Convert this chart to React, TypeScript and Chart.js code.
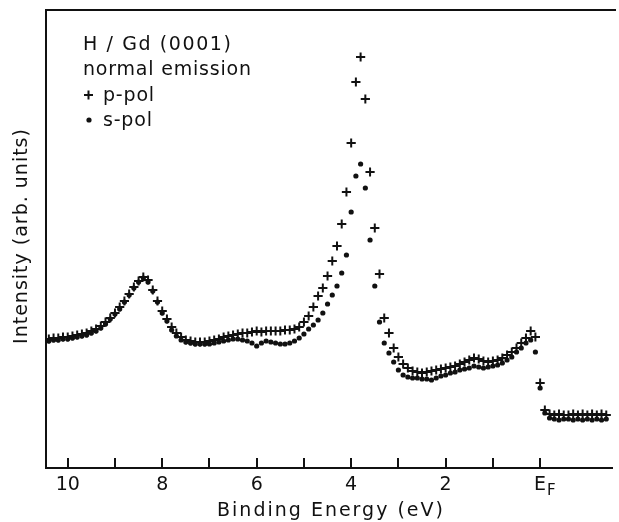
import React, { useEffect, useRef } from "react";
import { Chart, registerables } from "chart.js";

Chart.register(...registerables);

// Binding energy (eV), x grid
const energies = [
  10.4, 10.3, 10.2, 10.1, 10.0,
  9.9, 9.8, 9.7, 9.6, 9.5, 9.4, 9.3, 9.2, 9.1, 9.0,
  8.9, 8.8, 8.7, 8.6, 8.5, 8.4, 8.3, 8.2, 8.1, 8.0,
  7.9, 7.8, 7.7, 7.6, 7.5, 7.4, 7.3, 7.2, 7.1, 7.0,
  6.9, 6.8, 6.7, 6.6, 6.5, 6.4, 6.3, 6.2, 6.1, 6.0,
  5.9, 5.8, 5.7, 5.6, 5.5, 5.4, 5.3, 5.2, 5.1, 5.0,
  4.9, 4.8, 4.7, 4.6, 4.5, 4.4, 4.3, 4.2, 4.1, 4.0,
  3.9, 3.8, 3.7, 3.6, 3.5, 3.4, 3.3, 3.2, 3.1, 3.0,
  2.9, 2.8, 2.7, 2.6, 2.5, 2.4, 2.3, 2.2, 2.1, 2.0,
  1.9, 1.8, 1.7, 1.6, 1.5, 1.4, 1.3, 1.2, 1.1, 1.0,
  0.9, 0.8, 0.7, 0.6, 0.5, 0.4, 0.3, 0.2, 0.1, 0.0,
  -0.1, -0.2, -0.3, -0.4, -0.5, -0.6, -0.7, -0.8, -0.9, -1.0, -1.1, -1.2, -1.3, -1.4,
];

// p-polarised intensity (arb. units)
const pPol = [
  129, 130, 130, 131, 131,
  132, 133, 134, 135, 137, 139, 142, 146, 150, 155,
  161, 167, 174, 181, 187, 191, 188, 178, 167, 157,
  149, 141, 135, 131, 128, 127, 126, 126, 126, 127,
  128, 129, 131, 132, 133, 134, 135, 135, 136, 137,
  136, 137, 137, 137, 137, 138, 138, 139, 141, 146,
  152, 161, 172, 180, 192, 207, 222, 244, 276, 325,
  386, 411, 369, 296, 240, 194, 150, 135, 120, 111,
  104, 100, 97, 96, 95, 96, 97, 98, 99, 100,
  101, 102, 104, 106, 108, 110, 109, 107, 106, 107,
  108, 110, 113, 116, 120, 125, 130, 137, 131, 85,
  58, 54, 53, 54, 53, 53, 54, 53, 54, 53, 54, 53, 54, 53,
];

// s-polarised intensity (arb. units)
const sPol = [
  127, 128, 128, 129, 129,
  130, 131, 132, 133, 135, 137, 140, 144, 149, 154,
  159, 166, 173, 180, 186, 190, 186, 177, 166, 155,
  147, 138, 132, 128, 126, 125, 124, 124, 124, 124,
  125, 126, 127, 128, 129, 129, 128, 127, 125, 122,
  125, 127, 126, 125, 124, 124, 125, 127, 130, 134,
  139, 143, 148, 155, 164, 173, 182, 195, 213, 256,
  292, 304, 280, 228, 182, 146, 125, 115, 106, 98,
  93, 91, 90, 90, 89, 89, 88, 90, 92, 93,
  95, 96, 98, 99, 100, 102, 101, 100, 101, 102,
  103, 105, 108, 111, 116, 120, 125, 128, 116, 80,
  55, 50, 49, 48, 49, 49, 48, 49, 48, 49, 48, 49, 48, 49,
];

const tickValues = [10, 9, 8, 7, 6, 5, 4, 3, 2, 1, 0];
const labelledTicks = [10, 8, 6, 4, 2];
const xTitle = "Binding Energy (eV)";
const yTitle = "Intensity (arb. units)";
const legendLines = ["H / Gd (0001)", "normal emission"];
const seriesNames = ["p-pol", "s-pol"];

const FONT = '"DejaVu Sans", sans-serif';

export default function App() {
  const canvasRef = useRef<HTMLCanvasElement | null>(null);

  useEffect(() => {
    const canvas = canvasRef.current;
    if (!canvas) return;

    const decor = {
      id: "decor",
      afterDraw(chart: any) {
        const ctx = chart.ctx as CanvasRenderingContext2D;
        const area = chart.chartArea;
        const xs = chart.scales.x;
        ctx.save();
        ctx.strokeStyle = "#111";
        ctx.fillStyle = "#111";
        // top frame line
        ctx.lineWidth = 2;
        ctx.beginPath();
        ctx.moveTo(area.left, area.top);
        ctx.lineTo(616, area.top);
        ctx.stroke();
        // inward ticks
        ctx.lineWidth = 2;
        for (const v of tickValues) {
          const px = Math.round(xs.getPixelForValue(v));
          ctx.beginPath();
          ctx.moveTo(px, area.bottom);
          ctx.lineTo(px, area.bottom - 10);
          ctx.stroke();
        }
        // subscript F for E_F
        const ef = xs.getPixelForValue(0);
        (ctx as any).letterSpacing = "0px";
        ctx.font = `15px ${FONT}`;
        ctx.textAlign = "left";
        ctx.textBaseline = "alphabetic";
        ctx.fillText("F", ef + 7, 495);
        // axis titles
        (ctx as any).letterSpacing = "2px";
        ctx.font = `19px ${FONT}`;
        ctx.textAlign = "center";
        ctx.fillText(xTitle, 331, 516);
        ctx.save();
        ctx.translate(27, 236);
        ctx.rotate(-Math.PI / 2);
        (ctx as any).letterSpacing = "1px";
        ctx.fillText(yTitle, 0, 0);
        ctx.restore();
        // legend text
        (ctx as any).letterSpacing = "1.6px";
        ctx.textAlign = "left";
        ctx.font = `19px ${FONT}`;
        ctx.fillText(legendLines[0], 83, 50);
        (ctx as any).letterSpacing = "0.8px";
        ctx.fillText(legendLines[1], 83, 75);
        ctx.fillText(seriesNames[0], 103, 101);
        ctx.fillText(seriesNames[1], 103, 126);
        // legend markers
        ctx.lineWidth = 2;
        ctx.beginPath();
        ctx.moveTo(84, 95);
        ctx.lineTo(93, 95);
        ctx.moveTo(88.5, 90.5);
        ctx.lineTo(88.5, 99.5);
        ctx.stroke();
        ctx.beginPath();
        ctx.arc(89, 120, 2.6, 0, Math.PI * 2);
        ctx.fill();
        ctx.restore();
      },
    };

    const chart = new Chart(canvas, {
      type: "scatter",
      data: {
        datasets: [
          {
            label: seriesNames[1],
            data: energies.map((x, i) => ({ x, y: sPol[i] })),
            pointStyle: "circle",
            pointRadius: 2.6,
            backgroundColor: "#111",
            borderWidth: 0,
            showLine: false,
          },
          {
            label: seriesNames[0],
            data: energies.map((x, i) => ({ x, y: pPol[i] })),
            pointStyle: "cross",
            pointRadius: 4.6,
            borderColor: "#111",
            borderWidth: 2,
            showLine: false,
          },
        ],
      },
      options: {
        responsive: false,
        animation: false,
        events: [],
        layout: { padding: { left: 0, top: 10, right: 0, bottom: 0 } },
        plugins: { legend: { display: false }, tooltip: { enabled: false } },
        scales: {
          x: {
            type: "linear",
            reverse: true,
            min: -1.53,
            max: 10.46,
            afterFit: (s: any) => {
              s.height = 54;
            },
            grid: { display: false },
            border: { display: true, color: "#111", width: 2 },
            ticks: {
              stepSize: 1,
              includeBounds: false,
              autoSkip: false,
              maxRotation: 0,
              padding: -2,
              color: "#111",
              font: { family: FONT, size: 19 },
              callback: (v: any) =>
                v === 0 ? "E" : labelledTicks.includes(v) ? String(v) : "",
            },
          },
          y: {
            type: "linear",
            min: 0,
            max: 458,
            afterFit: (s: any) => {
              s.width = 46;
            },
            grid: { display: false },
            border: { display: true, color: "#111", width: 2 },
            ticks: { display: false },
          },
        },
      },
      plugins: [decor],
    });

    return () => chart.destroy();
  }, []);

  return (
    <div style={{ position: "fixed", left: 0, top: 0, width: 619, height: 522, background: "#fff" }}>
      <canvas ref={canvasRef} width={619} height={522} />
    </div>
  );
}
